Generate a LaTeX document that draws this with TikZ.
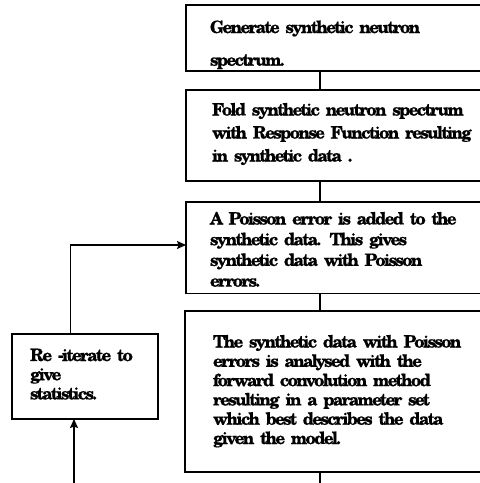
\documentclass[tikz,border=0pt]{standalone}
\usepackage{fontspec}
\setmainfont[WordSpace=0.3,LetterSpace=-10,BoldFeatures={FakeBold=0.6}]{TeX Gyre Schola}
\usetikzlibrary{arrows.meta}
\tikzset{
  box/.style={draw=black, line width=1.8pt, rectangle, inner sep=0pt, outer sep=0pt, anchor=north west},
  txt/.style={anchor=base west, inner sep=0pt, outer sep=0pt, text width=290pt, align=left},
  link/.style={line width=2.6pt, draw=black},
  feedback/.style={line width=1.4pt, draw=black, -{Stealth[length=9pt,width=8pt,inset=1.5pt]}}
}
\begin{document}
\begin{tikzpicture}[x=1pt,y=-1pt]
\useasboundingbox (0,0) rectangle (480,483);
% boxes
\node[box, minimum width=334pt, minimum height=66pt] (b1) at (186,5) {};
\node[box, minimum width=334pt, minimum height=91pt] (b2) at (186,90) {};
\node[box, minimum width=334pt, minimum height=91.5pt] (b3) at (186,202) {};
\node[box, minimum width=335pt, minimum height=161pt] (b4) at (185,311) {};
\node[box, minimum width=146pt, minimum height=85pt] (b5) at (12,334) {};
% texts
\node[txt, font=\bfseries\fontsize{17}{32.7}\selectfont] (t1) at (210,33)
  {Generate synthetic neutron\\spectrum.};
\node[txt, font=\bfseries\fontsize{17}{23}\selectfont] (t2) at (212,115.5)
  {Fold synthetic neutron spectrum\\with Response Function resulting\\in synthetic data .};
\node[txt, font=\bfseries\fontsize{17}{20.7}\selectfont] (t3) at (210,224.5)
  {A Poisson error is added to the\\synthetic data. This gives\\synthetic data with Poisson\\errors.};
\node[txt, font=\bfseries\fontsize{17}{19.3}\selectfont] (t4) at (213,347.5)
  {The synthetic data with Poisson\\errors is analysed with the\\forward convolution method\\resulting in a parameter set\\which best describes the data\\given the model.};
\node[txt, text width=130pt, font=\bfseries\fontsize{17}{19.2}\selectfont] (t5) at (30,361)
  {Re -iterate to\\give\\statistics.};
% connectors
\coordinate (bend) at (70.5,245);
\coordinate (endA) at (320,490);
\coordinate (startB) at (74,490);
\draw[link] (b1.south -| 320,0) -- (b2.north -| 320,0);
\draw[link] (b2.south -| 320,0) -- (b3.north -| 320,0);
\draw[link] (b3.south -| 320,0) -- (b4.north -| 320,0);
\draw[link] (b4.south -| 320,0) -- (endA);
\draw[feedback] (b5.north -| bend) -- (bend) -- (bend -| b3.west);
\draw[feedback] (startB) -- (b5.south -| startB);
\end{tikzpicture}
\end{document}
